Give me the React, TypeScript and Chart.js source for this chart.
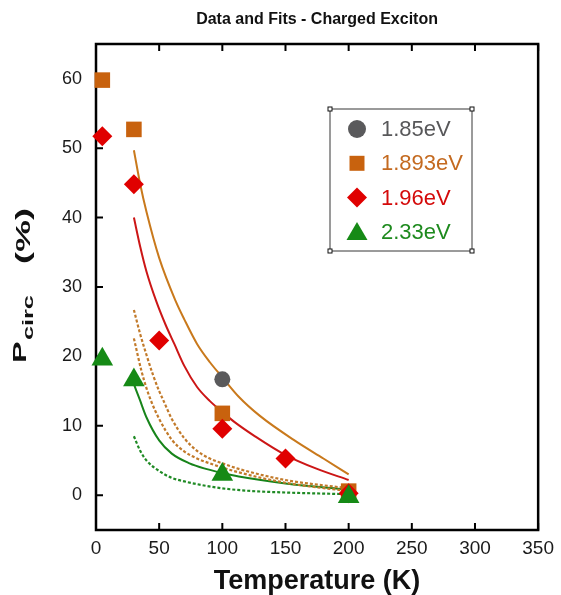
import React, { useEffect, useRef } from "react";
import { Chart, registerables } from "chart.js";

Chart.register(...registerables);

const FONT = "Arial, 'Liberation Sans', Helvetica, sans-serif";
const TITLE = "Data and Fits - Charged Exciton";
const X_TITLE = "Temperature (K)";

const xTickValues = [0, 50, 100, 150, 200, 250, 300, 350];
const yTickValues = [0, 10, 20, 30, 40, 50, 60];

// measured data (Temperature K, Pcirc %)
const t185 = [100];
const p185 = [16.7];
const t1893 = [5, 30, 100, 200];
const p1893 = [59.8, 52.7, 11.8, 0.6];
const t196 = [5, 30, 50, 100, 150, 200];
const p196 = [51.7, 44.8, 22.3, 9.6, 5.3, 0.3];
const t233 = [5, 30, 100, 200];
const p233 = [19.6, 16.6, 3.0, -0.2];

// fit curves
const fitOrangeT = [30, 35, 40, 50, 63, 70, 80, 90, 100, 113, 130, 158, 180, 200];
const fitOrangeP = [49.7, 44.8, 40.8, 34.2, 28.0, 25.3, 21.8, 19.2, 17.0, 14.2, 11.4, 7.8, 5.3, 3.0];
const fitRedT = [30, 35, 40, 47.6, 55, 62, 70, 80, 90, 100, 110, 125, 150, 175, 200];
const fitRedP = [40.0, 35.8, 32.2, 28.0, 24.6, 21.8, 18.6, 15.6, 13.6, 12.0, 10.5, 8.6, 5.8, 3.8, 2.2];
const fitGreenT = [30, 34.6, 40, 50, 60, 74, 87, 100, 113, 150, 200];
const fitGreenP = [16.0, 13.8, 11.2, 7.9, 6.0, 4.6, 3.8, 3.2, 2.7, 1.7, 0.8];
const dashOrange1T = [30, 35, 40, 45, 50, 53, 60, 70, 80, 90, 100, 113, 150, 200];
const dashOrange1P = [26.7, 23.2, 20.2, 17.4, 15.0, 13.8, 11.0, 8.2, 6.4, 5.3, 4.6, 3.8, 2.2, 1.0];
const dashOrange2T = [30, 36, 40, 44, 50, 60, 70, 80, 90, 100, 113, 150, 200];
const dashOrange2P = [22.6, 17.9, 15.4, 13.4, 11.0, 8.0, 6.3, 5.3, 4.6, 4.0, 3.3, 1.8, 0.6];
const dashGreenT = [30, 35, 40, 50, 60, 70, 80, 100, 120, 150, 200];
const dashGreenP = [8.5, 6.4, 5.0, 3.5, 2.5, 2.0, 1.6, 1.0, 0.65, 0.4, 0.15];

const seriesLabels = ["1.85eV", "1.893eV", "1.96eV", "2.33eV"];

const toXY = (xs: number[], ys: number[]) => xs.map((x, i) => ({ x, y: ys[i] }));

const COL = {
  gray: "#5a5a5c",
  orange: "#c8620e",
  red: "#e00000",
  green: "#168a16",
  orangeFit: "#c9791c",
  redFit: "#cc1616",
  greenFit: "#17841a",
  orangeDash: "#c27a2a",
  greenDash: "#1f8a24",
};
const legendTextColors = ["#58585a", "#c46a20", "#d40a0a", "#1e8a1e"];

function drawShape(ctx: CanvasRenderingContext2D, shape: string, x: number, y: number, color: string) {
  ctx.fillStyle = color;
  ctx.beginPath();
  if (shape === "circle") {
    ctx.arc(x, y, 9, 0, Math.PI * 2);
  } else if (shape === "rect") {
    ctx.rect(x - 7.5, y - 7.5, 15, 15);
  } else if (shape === "rectRot") {
    ctx.moveTo(x, y - 10);
    ctx.lineTo(x + 10, y);
    ctx.lineTo(x, y + 10);
    ctx.lineTo(x - 10, y);
    ctx.closePath();
  } else {
    ctx.moveTo(x, y - 10);
    ctx.lineTo(x + 10.5, y + 8);
    ctx.lineTo(x - 10.5, y + 8);
    ctx.closePath();
  }
  ctx.fill();
}

const decorPlugin = {
  id: "decor",
  beforeDatasetsDraw(chart: any) {
    const { ctx, chartArea: a, scales } = chart;
    ctx.save();
    ctx.strokeStyle = "#000";
    ctx.lineWidth = 2.5;
    ctx.strokeRect(a.left, a.top, a.right - a.left, a.bottom - a.top);
    ctx.lineWidth = 2;
    ctx.beginPath();
    for (const v of xTickValues) {
      const px = scales.x.getPixelForValue(v);
      ctx.moveTo(px, a.bottom);
      ctx.lineTo(px, a.bottom - 7);
      ctx.moveTo(px, a.top);
      ctx.lineTo(px, a.top + 7);
    }
    for (const v of yTickValues) {
      const py = scales.y.getPixelForValue(v);
      ctx.moveTo(a.left, py);
      ctx.lineTo(a.left + 7, py);
    }
    ctx.stroke();
    ctx.restore();
  },
  afterDraw(chart: any) {
    const { ctx, chartArea: a } = chart;
    const cx = (a.left + a.right) / 2;
    ctx.save();
    // title
    ctx.fillStyle = "#111";
    ctx.font = `bold 16px ${FONT}`;
    ctx.textAlign = "center";
    ctx.textBaseline = "alphabetic";
    ctx.fillText(TITLE, cx, 24);
    // x title
    ctx.font = `bold 27px ${FONT}`;
    ctx.fillText(X_TITLE, cx, 589);
    // y title with subscript (rotated, stretched along text)
    const parts = [
      { t: "P", size: 18, base: 26, start: 363 },
      { t: "circ", size: 14, base: 33, start: 340 },
      { t: "(%)", size: 20, base: 30, start: 264 },
    ];
    ctx.textAlign = "left";
    for (const p of parts) {
      ctx.save();
      ctx.translate(p.base, p.start);
      ctx.rotate(-Math.PI / 2);
      ctx.scale(1.8, 1);
      ctx.font = `bold ${p.size}px ${FONT}`;
      ctx.fillText(p.t, 0, 0);
      ctx.restore();
    }
    // legend box
    const lx = a.left + 234;
    const ly = a.top + 65;
    const lw = 142;
    const lh = 142;
    ctx.fillStyle = "#fff";
    ctx.fillRect(lx, ly, lw, lh);
    ctx.strokeStyle = "#7a7a7a";
    ctx.lineWidth = 1.5;
    ctx.strokeRect(lx, ly, lw, lh);
    ctx.lineWidth = 1;
    ctx.strokeStyle = "#111";
    for (const [hx, hy] of [[lx, ly], [lx + lw, ly], [lx, ly + lh], [lx + lw, ly + lh]]) {
      ctx.fillStyle = "#fff";
      ctx.fillRect(hx - 2, hy - 2, 4, 4);
      ctx.strokeRect(hx - 2, hy - 2, 4, 4);
    }
    const items = chart.data.datasets.filter((d: any) => seriesLabels.includes(d.label));
    items.sort((p: any, q: any) => seriesLabels.indexOf(p.label) - seriesLabels.indexOf(q.label));
    ctx.font = `22px ${FONT}`;
    ctx.textBaseline = "middle";
    items.forEach((d: any, i: number) => {
      const y = ly + 20 + i * 34.3;
      drawShape(ctx, d.pointStyle, lx + 27, y, d.backgroundColor);
      ctx.fillStyle = legendTextColors[seriesLabels.indexOf(d.label)];
      ctx.fillText(d.label, lx + 51, y + 1);
    });
    ctx.restore();
  },
};

export default function App() {
  const ref = useRef<HTMLCanvasElement>(null);
  useEffect(() => {
    document.body.style.margin = "0";
    const fit = (xs: number[], ys: number[], color: string, dashed: boolean) => ({
      type: "line" as const,
      label: "",
      data: toXY(xs, ys),
      borderColor: color,
      borderWidth: dashed ? 2.2 : 2,
      borderDash: dashed ? [3, 2] : [],
      pointRadius: 0,
      showLine: true,
      fill: false,
      cubicInterpolationMode: "monotone" as const,
      order: 10,
      clip: false as const,
    });
    const marks = (xs: number[], ys: number[], label: string, style: string, r: number, color: string, order: number) => ({
      type: "scatter" as const,
      label,
      data: toXY(xs, ys),
      pointStyle: style,
      pointRadius: r,
      pointBackgroundColor: color,
      backgroundColor: color,
      borderColor: color,
      pointBorderWidth: 0,
      showLine: false,
      order,
      clip: false as const,
    });
    const chart = new Chart(ref.current!, {
      type: "scatter",
      data: {
        datasets: [
          fit(dashGreenT, dashGreenP, COL.greenDash, true),
          fit(dashOrange2T, dashOrange2P, COL.orangeDash, true),
          fit(dashOrange1T, dashOrange1P, COL.orangeDash, true),
          fit(fitGreenT, fitGreenP, COL.greenFit, false),
          fit(fitRedT, fitRedP, COL.redFit, false),
          fit(fitOrangeT, fitOrangeP, COL.orangeFit, false),
          marks(t185, p185, seriesLabels[0], "circle", 8, COL.gray, 3),
          marks(t1893, p1893, seriesLabels[1], "rect", 11, COL.orange, 2),
          marks(t196, p196, seriesLabels[2], "rectRot", 10, COL.red, 1),
          marks(t233, p233, seriesLabels[3], "triangle", 12.5, COL.green, 0),
        ] as any,
      },
      options: {
        animation: false,
        responsive: false,
        maintainAspectRatio: false,
        layout: { padding: { top: 44, right: 18, left: 0, bottom: 0 } },
        plugins: {
          legend: { display: false },
          title: { display: false },
          tooltip: { enabled: false },
        },
        scales: {
          x: {
            type: "linear",
            position: "bottom",
            min: 0,
            max: 350,
            afterBuildTicks: (s: any) => {
              s.ticks = xTickValues.map((v) => ({ value: v }));
            },
            afterFit: (s: any) => {
              s.height = 65;
            },
            grid: { display: false, drawTicks: false },
            border: { display: false },
            ticks: {
              font: { family: FONT, size: 19 },
              color: "#1a1a1a",
              padding: 7,
              maxRotation: 0,
              autoSkip: false,
            },
          },
          y: {
            type: "linear",
            min: -5,
            max: 65,
            afterBuildTicks: (s: any) => {
              s.ticks = yTickValues.map((v) => ({ value: v }));
            },
            afterFit: (s: any) => {
              s.width = 96;
            },
            grid: { display: false, drawTicks: false },
            border: { display: false },
            ticks: {
              font: { family: FONT, size: 18 },
              color: "#1a1a1a",
              padding: 14,
              autoSkip: false,
            },
          },
        },
      } as any,
      plugins: [decorPlugin],
    });
    return () => chart.destroy();
  }, []);
  return (
    <div style={{ width: 561, height: 595, position: "relative", background: "#fff" }}>
      <canvas ref={ref} width={561} height={595} style={{ display: "block", width: 561, height: 595 }} />
    </div>
  );
}
